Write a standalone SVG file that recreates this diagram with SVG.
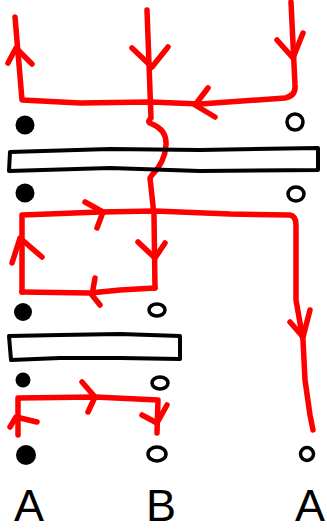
<svg xmlns="http://www.w3.org/2000/svg" width="327" height="531" viewBox="0 0 327 531">
<style>
.red{fill:none;stroke:#ff0000;stroke-width:5.5;stroke-linecap:round;stroke-linejoin:round}
.bar{fill:none;stroke:#000;stroke-width:4;stroke-linecap:round;stroke-linejoin:round}
.dot{fill:#000}
.ring{fill:none;stroke:#000;stroke-width:3.5}
.lbl{font-family:"Liberation Sans",Arial,sans-serif;font-size:45px;fill:#000;text-anchor:middle}
</style>
<rect width="327" height="531" fill="#fff"/>
<g id="connectors">
  <path class="red" d="M15,17 L22,100 L80,103 L150,102 L200,104 L285,98 Q296,96 295,85 L291,2"/>
  <path class="red" d="M8,63 L16,48 L32,64"/>
  <path class="red" d="M277,40 L293,58 L303,33"/>
  <path class="red" d="M208,88 L195,105 L215,117"/>
  <path class="red" d="M147,10 L151,118 Q146,122 152,124 Q167,130 166,145 Q165,162 152,175 L150,178 L154,215 L155,288"/>
  <path class="red" d="M132,48 L152,67 L168,47"/>
  <path class="red" d="M138,242 L155,258 L165,243"/>
  <path class="red" d="M22,292 L22,215 L100,212 L155,211 L230,214 L290,215 Q296,216 296,225 L296,300 L303,340 L305,380 L310,415 L313,430"/>
  <path class="red" d="M22,292 L90,293 L120,290 L155,288"/>
  <path class="red" d="M85,202 L103,212 L97,228"/>
  <path class="red" d="M12,263 L20,238 L42,257"/>
  <path class="red" d="M95,278 L92,295 L100,305"/>
  <path class="red" d="M290,322 L303,337 L310,310"/>
  <path class="red" d="M18,435 L18,398 L95,397 L158,400 L157,433"/>
  <path class="red" d="M82,382 L95,397 L88,412"/>
  <path class="red" d="M142,415 L157,423 L167,405"/>
  <path class="red" d="M10,427 L16,417 L37,422"/>
</g>
<g id="bar1"><path class="bar" d="M10,152 L110,149 L200,150 L318,148 L318,170 L200,171 L110,168 L9,171 Z"/></g>
<g id="bar2"><path class="bar" d="M9,336 L60,335 L120,334 L180,336 L180,359 L120,358 L60,358 L11,360 Z"/></g>
<g id="dots">
  <circle class="dot" cx="25" cy="125" r="9.5"/>
  <circle class="dot" cx="25" cy="193" r="9.5"/>
  <circle class="dot" cx="23" cy="312" r="9"/>
  <circle class="dot" cx="23" cy="380" r="7.5"/>
  <circle class="dot" cx="26" cy="455" r="10"/>
  <circle class="ring" cx="295" cy="122" r="8"/>
  <ellipse class="ring" cx="296" cy="194" rx="8" ry="7"/>
  <ellipse class="ring" cx="157" cy="310" rx="8" ry="6"/>
  <ellipse class="ring" cx="160" cy="383" rx="8" ry="6"/>
  <ellipse class="ring" cx="157" cy="454" rx="9" ry="7"/>
  <circle class="ring" cx="307" cy="454" r="6.5"/>
</g>
<g id="labels">
  <text class="lbl" x="29" y="521">A</text>
  <text class="lbl" x="161" y="521">B</text>
  <text class="lbl" x="310" y="521">A</text>
</g>
</svg>
